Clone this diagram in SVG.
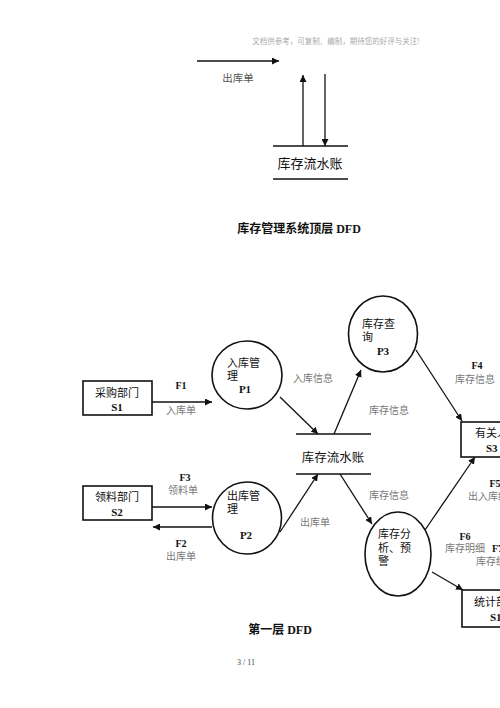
<svg xmlns="http://www.w3.org/2000/svg" width="500" height="708" viewBox="0 0 500 708">
<defs>
<marker id="ah" viewBox="0 0 10 10" refX="10" refY="5" markerWidth="7" markerHeight="7" markerUnits="userSpaceOnUse" orient="auto">
<path d="M0,0 L10,5 L0,10 z" fill="#111"/>
</marker>
<style>
text{font-family:"Liberation Serif","Noto Sans CJK SC",serif;fill:#111}
.n{font-size:11px}
.b{font-size:11px;font-weight:bold}
.g{font-size:10px;fill:#777}
.gb{font-size:10px;font-weight:bold}
.shape{fill:#fff;stroke:#111;stroke-width:1.6}
.ln{stroke:#111;stroke-width:1.5;fill:none}
.c{stroke:#111;stroke-width:1.3;fill:none;marker-end:url(#ah)}
</style>
</defs>
<rect width="500" height="708" fill="#fff"/>
<text x="336" y="44" text-anchor="middle" style="font-size:7.5px;fill:#aaa">文档供参考，可复制、编制，期待您的好评与关注!</text>

<!-- top diagram -->
<g id="top-connectors">
<line class="c" x1="197" y1="61" x2="279" y2="61"/>
<line class="c" x1="303" y1="146" x2="303" y2="75"/>
<line class="c" x1="325" y1="74" x2="325" y2="146"/>
</g>
<text x="238" y="82" text-anchor="middle" class="g" style="fill:#555;font-size:10.5px">出库单</text>
<g id="top-store">
<line class="ln" x1="273" y1="146" x2="348" y2="146"/>
<line class="ln" x1="273" y1="179" x2="348" y2="179"/>
<text x="310" y="168" text-anchor="middle" style="font-size:13px">库存流水账</text>
</g>
<text x="299" y="233" text-anchor="middle" style="font-size:12px;font-weight:bold">库存管理系统顶层 DFD</text>

<!-- level 1 -->
<g id="connectors">
<line class="c" x1="152" y1="402" x2="212" y2="402"/>
<line class="c" x1="152" y1="507" x2="212" y2="507"/>
<line class="c" x1="212" y1="527" x2="153" y2="527"/>
<line class="c" x1="280" y1="397" x2="318" y2="434"/>
<line class="c" x1="334" y1="434" x2="361" y2="370"/>
<line class="c" x1="280" y1="532" x2="318" y2="474"/>
<line class="c" x1="340" y1="474" x2="372" y2="524"/>
<line class="c" x1="416" y1="350" x2="462" y2="421"/>
<line class="c" x1="425" y1="530" x2="475" y2="457"/>
<line class="c" x1="432" y1="572" x2="463" y2="590"/>
</g>
<g id="labels">
<text x="181" y="389" text-anchor="middle" class="gb">F1</text>
<text x="181" y="414" text-anchor="middle" class="g">入库单</text>
<text x="185" y="481" text-anchor="middle" class="gb">F3</text>
<text x="183" y="494" text-anchor="middle" class="g">领料单</text>
<text x="181" y="547" text-anchor="middle" class="gb">F2</text>
<text x="181" y="560" text-anchor="middle" class="g">出库单</text>
<text x="313" y="382" text-anchor="middle" class="g">入库信息</text>
<text x="389" y="414" text-anchor="middle" class="g">库存信息</text>
<text x="389" y="499" text-anchor="middle" class="g">库存信息</text>
<text x="315" y="526" text-anchor="middle" class="g">出库单</text>
<text x="477" y="369" text-anchor="middle" class="gb">F4</text>
<text x="475" y="383" text-anchor="middle" class="g">库存信息</text>
<text x="495" y="487" text-anchor="middle" class="gb">F5</text>
<text x="468" y="500" class="g">出入库统计</text>
<text x="465" y="540" text-anchor="middle" class="gb">F6</text>
<text x="465" y="552" text-anchor="middle" class="g">库存明细</text>
<text x="492" y="552" class="gb">F7</text>
<text x="476" y="565" class="g">库存统计</text>
</g>

<g id="S1">
<rect class="shape" x="83" y="381" width="69" height="34"/>
<text x="117" y="397" text-anchor="middle" class="n">采购部门</text>
<text x="117" y="411" text-anchor="middle" class="b">S1</text>
</g>
<g id="S2">
<rect class="shape" x="83" y="486" width="69" height="34"/>
<text x="117" y="501" text-anchor="middle" class="n">领料部门</text>
<text x="117" y="516" text-anchor="middle" class="b">S2</text>
</g>
<g id="P1">
<ellipse class="shape" cx="247" cy="375" rx="35" ry="34"/>
<text x="227" y="367" class="n">入库管</text>
<text x="227" y="380" class="n">理</text>
<text x="245" y="393" text-anchor="middle" class="b">P1</text>
</g>
<g id="P2">
<ellipse class="shape" cx="247" cy="518" rx="34.5" ry="36"/>
<text x="227" y="500" class="n">出库管</text>
<text x="227" y="513" class="n">理</text>
<text x="246" y="539" text-anchor="middle" class="b">P2</text>
</g>
<g id="P3">
<ellipse class="shape" cx="383" cy="334" rx="34.5" ry="38"/>
<text x="362" y="328" class="n">库存查</text>
<text x="362" y="341" class="n">询</text>
<text x="383" y="355" text-anchor="middle" class="b">P3</text>
</g>
<g id="P4">
<ellipse class="shape" cx="398" cy="554" rx="33" ry="42"/>
<text x="378" y="538" class="n">库存分</text>
<text x="378" y="552" class="n">析、预</text>
<text x="378" y="565" class="n">警</text>
</g>
<g id="store">
<line class="ln" x1="296" y1="434" x2="371" y2="434"/>
<line class="ln" x1="296" y1="474" x2="371" y2="474"/>
<text x="333" y="462" text-anchor="middle" style="font-size:12.5px">库存流水账</text>
</g>
<g id="S3">
<rect class="shape" x="461" y="422" width="50" height="35"/>
<text x="475" y="437" class="n">有关人员</text>
<text x="486" y="452" class="b">S3</text>
</g>
<g id="S4">
<rect class="shape" x="462" y="590" width="50" height="37"/>
<text x="474" y="606" class="n">统计部门</text>
<text x="490" y="621" class="b">S1</text>
</g>
<text x="280" y="634" text-anchor="middle" style="font-size:12px;font-weight:bold">第一层 DFD</text>
<text x="246" y="665" text-anchor="middle" style="font-size:8px;fill:#444">3 / 11</text>
</svg>
